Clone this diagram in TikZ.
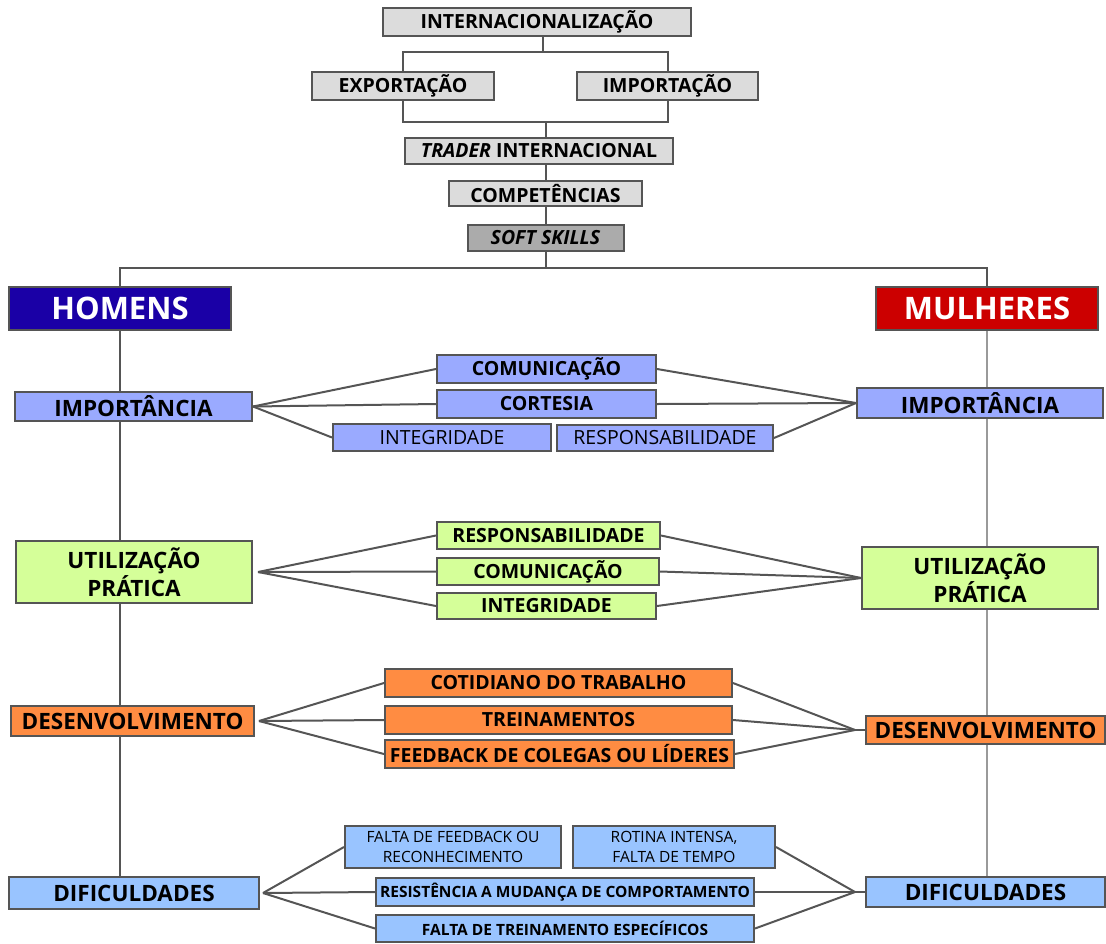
\documentclass[tikz,border=0pt]{standalone}
\usepackage{fontspec}
\setmainfont{Open Sans}

\definecolor{boxgray}{HTML}{DCDCDC}
\definecolor{softgray}{HTML}{ABABAB}
\definecolor{homblue}{HTML}{1A00A6}
\definecolor{mulred}{HTML}{CC0000}
\definecolor{impblue}{HTML}{9AAAFF}
\definecolor{utilgreen}{HTML}{D5FF99}
\definecolor{desorange}{HTML}{FF8C42}
\definecolor{difblue}{HTML}{99C4FF}
\definecolor{linegray}{HTML}{555555}
\definecolor{spinegray}{HTML}{9A9A9A}

\begin{document}
\begin{tikzpicture}[x=1pt,y=-1pt,
    box/.style={draw=linegray, line width=2pt, inner sep=0pt, align=center,
        font=\bfseries\fontsize{19.5}{22}\selectfont},
    gbox/.style={box, fill=boxgray},
    genbox/.style={box, text=white, font=\bfseries\fontsize{31}{36}\selectfont},
    headbox/.style={box, font=\bfseries\fontsize{22.5}{28.5}\selectfont},
    thinbox/.style={box, font=\fontsize{19.5}{22}\selectfont},
    smallbox/.style={box, font=\bfseries\fontsize{15.5}{19.6}\selectfont},
    smallthin/.style={box, font=\fontsize{15.5}{19.6}\selectfont},
    link/.style={draw=linegray, line width=2pt},
    spine/.style={draw=spinegray, line width=1.4pt}]
    \useasboundingbox (0,0) rectangle (1106,943);

    % Top chain
    \node[gbox, minimum width=308, minimum height=28] (intl) at (537,22) {INTERNACIONALIZAÇÃO};
    \node[gbox, minimum width=182, minimum height=28] (export) at (403,86) {EXPORTAÇÃO};
    \node[gbox, minimum width=181, minimum height=28] (import) at (667.5,86) {IMPORTAÇÃO};
    \node[gbox, minimum width=268, minimum height=26] (trader) at (539,151) {\textit{TRADER} INTERNACIONAL};
    \node[gbox, minimum width=193, minimum height=25] (comp) at (545.5,193.5) {COMPETÊNCIAS};
    \node[box, fill=softgray, minimum width=156, minimum height=26] (soft) at (545.5,238) {\textit{SOFT SKILLS}};

    \coordinate (topfork) at (543,52);
    \coordinate (botfork) at (545.5,122);
    \coordinate (genfork) at (545.5,268);
    \draw[link] (intl.south -| topfork) -- (topfork);
    \draw[link] (export.north) |- (topfork) -| (import.north);
    \draw[link] (export.south) |- (botfork) -| (import.south);
    \draw[link] (botfork) -- (trader.north -| botfork);
    \draw[link] (trader.south -| comp.north) -- (comp.north);
    \draw[link] (comp.south) -- (soft.north);
    \draw[link] (soft.south) -- (genfork);

    % Homens / Mulheres
    \node[genbox, fill=homblue, minimum width=222, minimum height=43] (homens) at (120,308.5) {HOMENS};
    \node[genbox, fill=mulred, minimum width=222, minimum height=43] (mulheres) at (987,308.5) {MULHERES};
    \draw[link] (homens.north) |- (genfork) -| (mulheres.north);

    % Spines (drawn first, boxes go over them)
    \draw[link] (homens.south) -- (homens.south |- 0,877);
    \draw[spine] (mulheres.south) -- (mulheres.south |- 0,877);

    % Importancia
    \node[headbox, fill=impblue, minimum width=237, minimum height=29] (himp) at (133.5,406.5) {IMPORTÂNCIA};
    \node[box, fill=impblue, minimum width=219, minimum height=28] (icom) at (546.5,369) {COMUNICAÇÃO};
    \node[box, fill=impblue, minimum width=219, minimum height=28] (icort) at (546.5,404) {CORTESIA};
    \node[thinbox, fill=impblue, minimum width=218, minimum height=27] (iint) at (442,437.5) {INTEGRIDADE};
    \node[thinbox, fill=impblue, minimum width=216, minimum height=26] (iresp) at (665,438) {RESPONSABILIDADE};
    \node[headbox, fill=impblue, minimum width=246, minimum height=30] (mimp) at (980,403) {IMPORTÂNCIA};
    \foreach \n in {icom,icort,iint} \draw[link] (himp.east) -- (\n.west);
    \foreach \n in {icom,icort,iresp} \draw[link] (\n.east) -- (mimp.west);

    % Utilizacao pratica
    \node[headbox, fill=utilgreen, minimum width=236, minimum height=62] (hutil) at (134,572) {UTILIZAÇÃO\\PRÁTICA};
    \node[box, fill=utilgreen, minimum width=223, minimum height=27] (uresp) at (548.5,535.5) {RESPONSABILIDADE};
    \node[box, fill=utilgreen, minimum width=222, minimum height=27] (ucom) at (548,571.5) {COMUNICAÇÃO};
    \node[box, fill=utilgreen, minimum width=219, minimum height=26] (uint) at (546.5,606) {INTEGRIDADE};
    \node[headbox, fill=utilgreen, minimum width=236, minimum height=62] (mutil) at (980,578) {UTILIZAÇÃO\\PRÁTICA};
    \foreach \n in {uresp,ucom,uint} \draw[link] ([xshift=5pt]hutil.east) -- (\n.west);
    \foreach \n in {uresp,ucom,uint} \draw[link] (\n.east) -- (mutil.west);

    % Desenvolvimento
    \node[headbox, fill=desorange, minimum width=243, minimum height=30] (hdes) at (132.5,721) {DESENVOLVIMENTO};
    \node[box, fill=desorange, minimum width=347, minimum height=28] (dcot) at (558.5,683) {COTIDIANO DO TRABALHO};
    \node[box, fill=desorange, minimum width=347, minimum height=28] (dtrein) at (558.5,720) {TREINAMENTOS};
    \node[box, fill=desorange, minimum width=349, minimum height=28] (dfeed) at (559.5,754) {FEEDBACK DE COLEGAS OU LÍDERES};
    \node[headbox, fill=desorange, minimum width=239, minimum height=28] (mdes) at (985.5,730) {DESENVOLVIMENTO};
    \coordinate (mdesj) at ([xshift=-10pt]mdes.west);
    \foreach \n in {dcot,dtrein,dfeed} \draw[link] ([xshift=4pt]hdes.east) -- (\n.west);
    \foreach \n in {dcot,dtrein,dfeed} \draw[link] (\n.east) -- (mdesj);
    \draw[link] (mdesj) -- (mdes.west);

    % Dificuldades
    \node[headbox, fill=difblue, minimum width=250, minimum height=32] (hdif) at (134,893) {DIFICULDADES};
    \node[smallthin, fill=difblue, minimum width=216, minimum height=42] (ffeed) at (453,847) {FALTA DE FEEDBACK OU\\RECONHECIMENTO};
    \node[smallthin, fill=difblue, minimum width=202, minimum height=42] (frot) at (674,847) {ROTINA INTENSA,\\FALTA DE TEMPO};
    \node[smallbox, fill=difblue, minimum width=378, minimum height=28] (fres) at (565,892) {RESISTÊNCIA A MUDANÇA DE COMPORTAMENTO};
    \node[smallbox, fill=difblue, minimum width=378, minimum height=27] (ftrein) at (565,928.5) {FALTA DE TREINAMENTO ESPECÍFICOS};
    \node[headbox, fill=difblue, minimum width=239, minimum height=30] (mdif) at (985.5,892) {DIFICULDADES};
    \coordinate (mdifj) at ([xshift=-10pt]mdif.west);
    \foreach \n in {ffeed,fres,ftrein} \draw[link] ([xshift=3pt]hdif.east) -- (\n.west);
    \foreach \n in {frot,fres,ftrein} \draw[link] (\n.east) -- (mdifj);
    \draw[link] (mdifj) -- (mdif.west);
\end{tikzpicture}
\end{document}
